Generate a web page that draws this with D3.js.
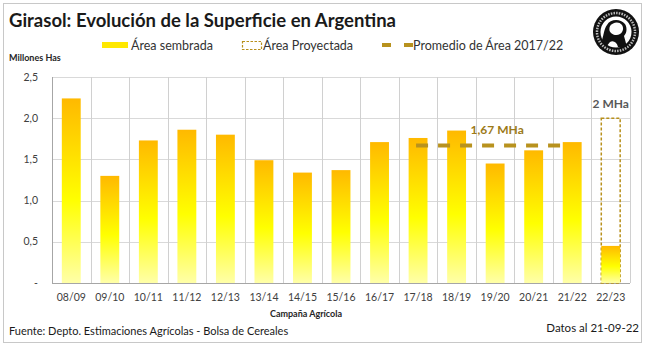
<!DOCTYPE html>
<html>
<head>
<meta charset="utf-8">
<script src="https://cdn.jsdelivr.net/npm/d3@7"></script>
<style>
  body { margin: 0; background: #fff; }
  text { font-family: Lato, "Liberation Sans", Arial, sans-serif; }
</style>
</head>
<body>
<script>
// data
const campaigns = ['08/09', '09/10', '10/11', '11/12', '12/13', '13/14', '14/15', '15/16',
  '16/17', '17/18', '18/19', '19/20', '20/21', '21/22', '22/23'];
const sownArea = [2.24, 1.30, 1.73, 1.86, 1.80, 1.49, 1.34, 1.37, 1.71, 1.76, 1.85, 1.45, 1.61, 1.71, 0.45];
const projectedCampaign = ['22/23'];
const projectedArea = [2.0];
const avgCampaigns = ['17/18', '21/22'];
const avgArea = 1.67;
const yTicks = [0, 0.5, 1.0, 1.5, 2.0, 2.5];

const width = 645, height = 346;
const margin = { top: 77, right: 15, bottom: 63, left: 52 };

const svg = d3.select('body').append('svg')
  .attr('width', width)
  .attr('height', height);

// gradient for the bars
const defs = svg.append('defs');
const grad = defs.append('linearGradient')
  .attr('id', 'barGrad')
  .attr('x1', 0).attr('y1', 0).attr('x2', 0).attr('y2', 1);
grad.append('stop').attr('offset', '0%').attr('stop-color', '#ffb900');
grad.append('stop').attr('offset', '55%').attr('stop-color', '#ffff00');
grad.append('stop').attr('offset', '100%').attr('stop-color', '#ffffa8');

// outer frame
svg.append('rect')
  .attr('x', 3.5).attr('y', 3.5)
  .attr('width', width - 7).attr('height', height - 7)
  .attr('fill', 'none')
  .attr('stroke', '#c8c8c8');

const x = d3.scaleBand()
  .domain(campaigns)
  .range([margin.left, width - margin.right])
  .paddingInner(0)
  .paddingOuter(0);

const y = d3.scaleLinear()
  .domain([0, 2.5])
  .range([height - margin.bottom, margin.top]);

const barW = x.bandwidth() * 0.49;
const barX = d => x(d) + (x.bandwidth() - barW) / 2;
const mid = d => x(d) + x.bandwidth() / 2;

// gridlines
svg.append('g')
  .selectAll('line')
  .data(yTicks.slice(1))
  .enter()
  .append('line')
  .attr('x1', margin.left).attr('x2', width - margin.right)
  .attr('y1', d => Math.round(y(d)) + 0.5).attr('y2', d => Math.round(y(d)) + 0.5)
  .attr('stroke', '#d9d9d9');

svg.append('g')
  .selectAll('line')
  .data(campaigns.slice(1).concat(['end']))
  .enter()
  .append('line')
  .attr('x1', d => Math.round(d === 'end' ? x.range()[1] : x(d)) + 0.5)
  .attr('x2', d => Math.round(d === 'end' ? x.range()[1] : x(d)) + 0.5)
  .attr('y1', y(2.5)).attr('y2', y(0))
  .attr('stroke', '#d0d0d0');

// axes lines
svg.append('line')
  .attr('x1', margin.left + 0.5).attr('x2', margin.left + 0.5)
  .attr('y1', y(2.5)).attr('y2', y(0))
  .attr('stroke', '#a6a6a6');
svg.append('line')
  .attr('x1', margin.left).attr('x2', width - margin.right)
  .attr('y1', Math.round(y(0)) + 0.5).attr('y2', Math.round(y(0)) + 0.5)
  .attr('stroke', '#a6a6a6');

// projected area (dashed box)
svg.selectAll('.proj')
  .data(projectedCampaign)
  .enter()
  .append('rect')
  .attr('class', 'proj')
  .attr('x', d => barX(d))
  .attr('y', (d, i) => y(projectedArea[i]))
  .attr('width', barW)
  .attr('height', (d, i) => y(0) - y(projectedArea[i]))
  .attr('fill', 'none')
  .attr('stroke', '#b8901c')
  .attr('stroke-width', 1.5)
  .attr('stroke-dasharray', '3,2');

// sown area bars
svg.selectAll('.bar')
  .data(campaigns)
  .enter()
  .append('rect')
  .attr('class', 'bar')
  .attr('x', d => barX(d))
  .attr('y', (d, i) => y(sownArea[i]))
  .attr('width', barW)
  .attr('height', (d, i) => y(0) - y(sownArea[i]))
  .attr('fill', 'url(#barGrad)');

// average line, drawn over the bars
svg.append('line')
  .attr('x1', mid(avgCampaigns[0]) - 2)
  .attr('x2', mid(avgCampaigns[1]) - 7)
  .attr('y1', y(avgArea)).attr('y2', y(avgArea))
  .attr('stroke', '#b8921e')
  .attr('stroke-width', 4)
  .attr('stroke-dasharray', '12,10');

svg.append('text')
  .attr('x', mid('18/19') + 14)
  .attr('y', y(avgArea) - 11)
  .attr('fill', '#9c7a18')
  .attr('font-size', '12px')
  .attr('font-weight', 'bold')
  .text('1,67 MHa');

svg.append('text')
  .attr('x', mid('22/23'))
  .attr('y', y(projectedArea[0]) - 10)
  .attr('text-anchor', 'middle')
  .attr('fill', '#595959')
  .attr('font-size', '12px')
  .attr('font-weight', 'bold')
  .text('2 MHa');

// y tick labels
svg.append('g')
  .selectAll('text')
  .data(yTicks)
  .enter()
  .append('text')
  .attr('x', 38)
  .attr('y', d => y(d))
  .attr('dy', '.35em')
  .attr('text-anchor', 'end')
  .attr('font-size', '10.5px')
  .attr('fill', '#404040')
  .text(d => d === 0 ? '-' : d3.format('.1f')(d).replace('.', ','));

// x tick labels
svg.append('g')
  .selectAll('text')
  .data(campaigns)
  .enter()
  .append('text')
  .attr('x', d => mid(d))
  .attr('y', 301)
  .attr('text-anchor', 'middle')
  .attr('font-size', '10.5px')
  .attr('fill', '#404040')
  .text(d => d);

svg.append('text')
  .attr('x', 306).attr('y', 317)
  .attr('text-anchor', 'middle')
  .attr('font-size', '9px')
  .attr('font-weight', 'bold')
  .attr('fill', '#262626')
  .text('Campaña Agrícola');

// title and axis name
svg.append('text')
  .attr('x', 9).attr('y', 27)
  .attr('font-size', '18.5px')
  .attr('font-weight', 'bold')
  .attr('fill', '#1a1a1a')
  .text('Girasol: Evolución de la Superficie en Argentina');

svg.append('text')
  .attr('x', 9).attr('y', 61)
  .attr('font-size', '9px')
  .attr('font-weight', 'bold')
  .attr('fill', '#262626')
  .text('Millones  Has');

// legend
const lg = svg.append('g').attr('font-size', '12.5px').attr('fill', '#333');
lg.append('rect').attr('x', 102).attr('y', 42).attr('width', 26).attr('height', 6)
  .attr('fill', '#ffe800');
lg.append('text').attr('x', 131).attr('y', 50).text('Área sembrada');
lg.append('rect').attr('x', 242.5).attr('y', 41.5).attr('width', 19).attr('height', 8)
  .attr('fill', 'none').attr('stroke', '#b8901c').attr('stroke-width', 1.2)
  .attr('stroke-dasharray', '2.5,1.5');
lg.append('text').attr('x', 263).attr('y', 50).text('Área Proyectada');
lg.append('line').attr('x1', 382).attr('x2', 413).attr('y1', 45).attr('y2', 45)
  .attr('stroke', '#b8921e').attr('stroke-width', 4).attr('stroke-dasharray', '9,13');
lg.append('text').attr('x', 413).attr('y', 50).text('Promedio de Área 2017/22');

// footer
svg.append('text')
  .attr('x', 9).attr('y', 335)
  .attr('font-size', '11px')
  .attr('fill', '#1a1a1a')
  .text('Fuente: Depto. Estimaciones Agrícolas - Bolsa de Cereales');
svg.append('text')
  .attr('x', 639).attr('y', 332)
  .attr('text-anchor', 'end')
  .attr('font-size', '11.5px')
  .attr('fill', '#1a1a1a')
  .text('Datos al 21-09-22');

// logo (simple seal)
const logo = svg.append('g').attr('transform', 'translate(616,32)');
logo.append('circle').attr('r', 23).attr('fill', '#111');
logo.append('circle').attr('r', 19).attr('fill', 'none')
  .attr('stroke', '#bbb').attr('stroke-width', 2.5).attr('stroke-dasharray', '1.5,1.2');
logo.append('circle').attr('r', 15.5).attr('fill', '#fff');
logo.append('path')
  .attr('d', 'M-9,-7 C-6,-13 4,-14 9,-8 C12,-3 10,2 8,4 L11,15 L2,15 C1,10 -3,8 -6,10 L-10,15 L-14,8 C-12,2 -12,-3 -9,-7 Z')
  .attr('fill', '#111');
logo.append('path')
  .attr('d', 'M-6,-6 C-3,-10 3,-11 6,-7 C8,-4 7,0 4,2 C1,4 -3,3 -5,1 C-7,-1 -7,-3 -6,-6 Z')
  .attr('fill', '#fff');
</script>
</body>
</html>
